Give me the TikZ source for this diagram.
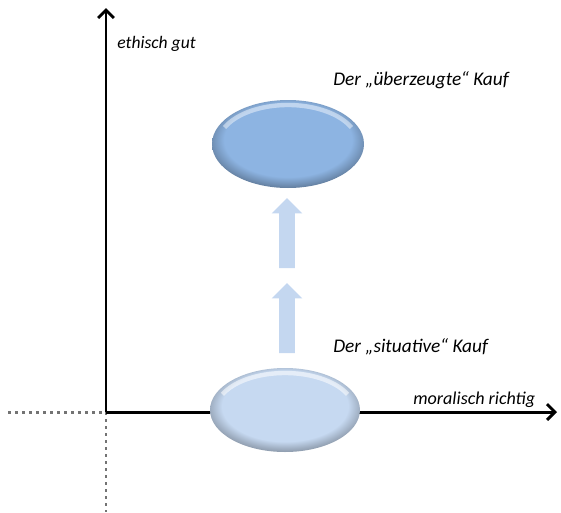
\documentclass[tikz,border=0pt]{standalone}
\usepackage{fontspec}
\setmainfont{Carlito}
\usepackage{xcolor}
\usepackage{tikz}
\usetikzlibrary{shapes.geometric, shapes.arrows, arrows.meta, positioning, calc}

\definecolor{ovaltop}{RGB}{141,180,226}
\definecolor{ovalbot}{RGB}{198,217,241}
\definecolor{arrowfill}{RGB}{196,215,240}
\pgfdeclareradialshading{ovaltopshade}{\pgfpoint{0bp}{4bp}}{color(0bp)=(ovaltop); color(21bp)=(ovaltop); color(25bp)=(ovaltop!80!black); color(29.5bp)=(ovaltop!55!black); color(50bp)=(ovaltop!45!black)}
\pgfdeclareradialshading{ovalbotshade}{\pgfpoint{0bp}{4bp}}{color(0bp)=(ovalbot); color(21bp)=(ovalbot); color(25bp)=(ovalbot!80!black); color(29.5bp)=(ovalbot!60!black); color(50bp)=(ovalbot!50!black)}

\begin{document}
\begin{tikzpicture}[
    x=0.02cm, y=-0.02cm,
    axis/.style={line width=1.7pt, -{Straight Barb[length=4.5pt, width=9pt]}},
    dotline/.style={line width=1.7pt, black!55, dash pattern=on 1.7pt off 2.3pt},
    label/.style={font=\itshape, inner sep=0pt},
    oval/.style={ellipse, inner sep=0pt},
    upper/.style={oval, shading=ovaltopshade, minimum width=3.04cm, minimum height=1.76cm,
        path picture={\draw[white, opacity=0.45, line width=2.5pt] ($(path picture bounding box.center)+(-1.269cm,0.330cm)$)
            arc[start angle=155, end angle=25, x radius=1.40cm, y radius=0.78cm];}},
    lower/.style={oval, shading=ovalbotshade, minimum width=3.0cm, minimum height=1.68cm,
        path picture={\draw[white, opacity=0.55, line width=2.5pt] ($(path picture bounding box.center)+(-1.251cm,0.313cm)$)
            arc[start angle=155, end angle=25, x radius=1.38cm, y radius=0.74cm];}},
    uparrow/.style={single arrow, rotate=90, inner xsep=0pt, inner ysep=0.15cm, minimum height=1.4cm,
        single arrow head extend=0.15cm, fill=arrowfill}
]
\useasboundingbox (0,0) rectangle (561,512);

% Axes
\coordinate (O) at (106,412);
\coordinate (ytop) at (106,8);
\coordinate (xend) at (557,412);
\coordinate (xneg) at (8,412);
\coordinate (yneg) at (106,512);
\draw[dotline] (xneg) -- (O);
\draw[dotline] (O) -- (yneg);
\draw[axis] (O) -- (ytop);
\draw[axis] (O) -- (xend);

% Axis labels
\node[label, font=\itshape\fontsize{10}{12}\selectfont, anchor=base west] (ylab) at (117,48) {ethisch gut};
\node[label, font=\itshape\fontsize{10.3}{12}\selectfont, anchor=base west] (xlab) at (413,404) {moralisch richtig};

% Purchases
\node[upper] (ueberzeugt) at (288,144) {};
\node[lower] (situativ) at (285,410) {};
\node[label, font=\itshape\fontsize{11}{13}\selectfont, anchor=base west] (ueblab) at (333,85) {Der „überzeugte“ Kauf};
\node[label, font=\itshape\fontsize{11}{13}\selectfont, anchor=base west] (sitlab) at (333,352) {Der „situative“ Kauf};

% Block arrows
\node[uparrow] (up1) at (287,322) {};
\node[uparrow] (up2) at (287,237) {};

\end{tikzpicture}
\end{document}
